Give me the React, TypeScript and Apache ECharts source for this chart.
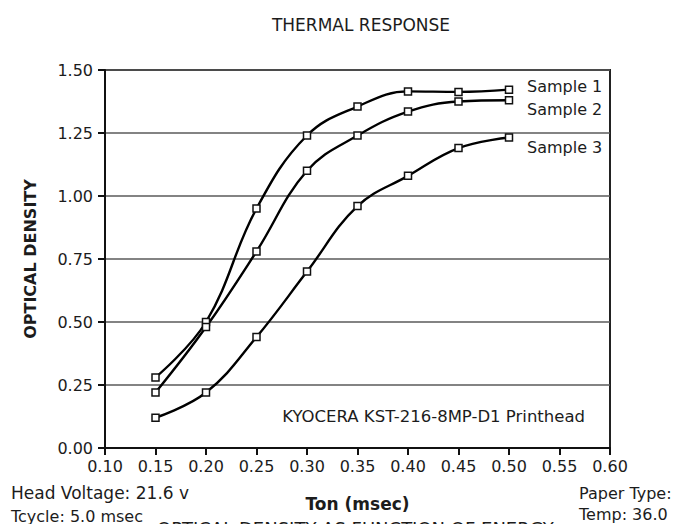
import React, { useEffect, useRef } from "react";
import * as echarts from "echarts";

const tonValues = [0.15, 0.2, 0.25, 0.3, 0.35, 0.4, 0.45, 0.5];
const sample1 = [0.28, 0.5, 0.95, 1.24, 1.355, 1.415, 1.413, 1.422];
const sample2 = [0.22, 0.48, 0.78, 1.1, 1.24, 1.335, 1.375, 1.38];
const sample3 = [0.12, 0.22, 0.44, 0.7, 0.96, 1.08, 1.19, 1.232];
const seriesNames = ["Sample 1", "Sample 2", "Sample 3"];
const labelOffsets = [
  [10, -3],
  [10, 9],
  [10, 10],
];

const FONT = "DejaVu Sans";
const TXT = "#1c1c1c";

export default function App() {
  const ref = useRef<HTMLDivElement>(null);
  useEffect(() => {
    if (!ref.current) return;
    const chart = echarts.init(ref.current, null, { renderer: "svg" });
    const all = [sample1, sample2, sample3];
    chart.setOption({
      animation: false,
      backgroundColor: "#ffffff",
      textStyle: { fontFamily: FONT, color: TXT },
      title: {
        text: "THERMAL RESPONSE",
        left: 356,
        top: 11,
        textAlign: "center",
        textStyle: { fontFamily: FONT, fontSize: 17, fontWeight: "normal", color: TXT },
      },
      grid: {
        left: 105,
        right: 65,
        top: 70,
        bottom: 76,
        show: true,
        borderColor: "#222",
        borderWidth: 2,
        backgroundColor: "transparent",
      },
      xAxis: {
        type: "value",
        min: 0.1,
        max: 0.6,
        interval: 0.05,
        name: "Ton (msec)",
        nameLocation: "middle",
        nameGap: 47,
        nameTextStyle: { fontFamily: FONT, fontSize: 17, fontWeight: "bold", color: TXT },
        axisLine: { show: true, lineStyle: { color: "#111", width: 2 } },
        axisTick: { show: true, length: 7, lineStyle: { color: "#111", width: 2 } },
        axisLabel: {
          margin: 10,
          fontFamily: FONT,
          fontSize: 16,
          color: TXT,
          formatter: (v: number) => v.toFixed(2),
        },
        splitLine: { show: false },
      },
      yAxis: {
        type: "value",
        min: 0,
        max: 1.5,
        interval: 0.25,
        name: "OPTICAL DENSITY",
        nameLocation: "middle",
        nameGap: 67,
        nameTextStyle: { fontFamily: FONT, fontSize: 16, fontWeight: "bold", color: TXT },
        axisLine: { show: true, lineStyle: { color: "#111", width: 2 } },
        axisTick: { show: true, length: 7, lineStyle: { color: "#111", width: 2 } },
        axisLabel: {
          margin: 12,
          fontFamily: FONT,
          fontSize: 16,
          color: TXT,
          formatter: (v: number) => v.toFixed(2),
        },
        splitLine: { show: true, lineStyle: { color: "#5a5a5a", width: 1.5 } },
      },
      series: all.map((vals, i) => ({
        type: "line",
        name: seriesNames[i],
        data: tonValues.map((x, j) => [x, vals[j]]),
        smooth: 0.4,
        symbol: "rect",
        symbolSize: 7,
        lineStyle: { color: "#000", width: 2.4 },
        itemStyle: { color: "#fff", borderColor: "#111", borderWidth: 1.5 },
        endLabel: {
          show: true,
          formatter: seriesNames[i],
          offset: labelOffsets[i],
          fontFamily: FONT,
          fontSize: 16,
          color: TXT,
        },
        z: 3,
      })),
      graphic: [
        {
          type: "text",
          right: 90,
          top: 408,
          style: {
            text: "KYOCERA KST-216-8MP-D1 Printhead",
            fontFamily: FONT,
            fontSize: 16.5,
            fill: TXT,
          },
        },
        {
          type: "text",
          left: 11,
          top: 484,
          style: { text: "Head Voltage: 21.6 v", fontFamily: FONT, fontSize: 17, fill: TXT },
        },
        {
          type: "text",
          left: 11,
          top: 508,
          style: { text: "Tcycle: 5.0 msec", fontFamily: FONT, fontSize: 16, fill: TXT },
        },
        {
          type: "text",
          left: 579,
          top: 485,
          style: { text: "Paper Type:", fontFamily: FONT, fontSize: 16, fill: TXT },
        },
        {
          type: "text",
          left: 579,
          top: 506,
          style: { text: "Temp: 36.0", fontFamily: FONT, fontSize: 16, fill: TXT },
        },
        {
          type: "text",
          left: 157,
          top: 519,
          style: {
            text: "OPTICAL DENSITY AS FUNCTION OF ENERGY",
            fontFamily: FONT,
            fontSize: 18,
            fill: TXT,
          },
        },
      ],
    });
    return () => chart.dispose();
  }, []);
  return (
    <div
      ref={ref}
      style={{ width: 675, height: 524, position: "absolute", left: 0, top: 0 }}
    />
  );
}
